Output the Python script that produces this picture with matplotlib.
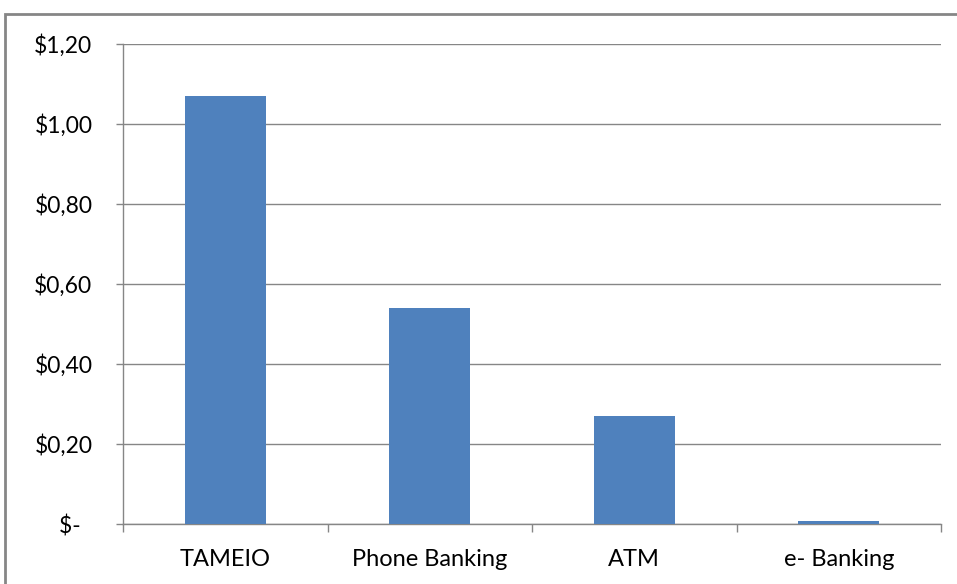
import matplotlib
matplotlib.use("Agg")
import matplotlib.pyplot as plt
from matplotlib.patches import Rectangle

categories = ["TAMEIO", "Phone Banking", "ATM", "e- Banking"]
values = [1.07, 0.54, 0.27, 0.008]
yticks = [0.0, 0.2, 0.4, 0.6, 0.8, 1.0, 1.2]
ytick_labels = ["$-  ", "$0,20", "$0,40", "$0,60", "$0,80", "$1,00", "$1,20"]

plt.rcParams['font.family'] = ['Lato', 'DejaVu Sans']

W, H = 957, 584
fig = plt.figure(figsize=(W/100, H/100), dpi=100)
fig.patch.set_facecolor("white")

# outer chart frame
fig.patches.append(Rectangle((5/W, -0.05), 1.2, (H-14)/H + 0.05, transform=fig.transFigure,
                             fill=False, edgecolor="#868686", linewidth=2.0))

ax = fig.add_axes([123/W, 1-524/H, (941-123)/W, (524-44)/H])
x = list(range(len(categories)))
ax.bar(x, values, width=0.395, color="#4F81BD", zorder=3)
ax.set_xlim(-0.5, len(categories)-0.5)
ax.set_ylim(0, 1.2)
ax.set_yticks(yticks)
ax.set_yticklabels(ytick_labels)
ax.yaxis.grid(True, color="#868686", linewidth=1.0)
ax.set_axisbelow(True)

ax.set_xticks([i - 0.5 for i in range(len(categories)+1)])
ax.set_xticklabels([])
ax.set_xticks(x, minor=True)
ax.set_xticklabels(categories, minor=True)
ax.tick_params(axis='x', which='minor', length=0, pad=18, labelsize=17, labelcolor="#000000")
ax.tick_params(axis='x', which='major', length=6, color="#868686", width=1.0)
ax.tick_params(axis='y', length=5, color="#868686", width=1.0, pad=17, labelsize=16.5)

for s in ["top", "right"]:
    ax.spines[s].set_visible(False)
for s in ["left", "bottom"]:
    ax.spines[s].set_color("#868686")
    ax.spines[s].set_linewidth(1.0)

fig.savefig("out.png", dpi=100, facecolor="white")
